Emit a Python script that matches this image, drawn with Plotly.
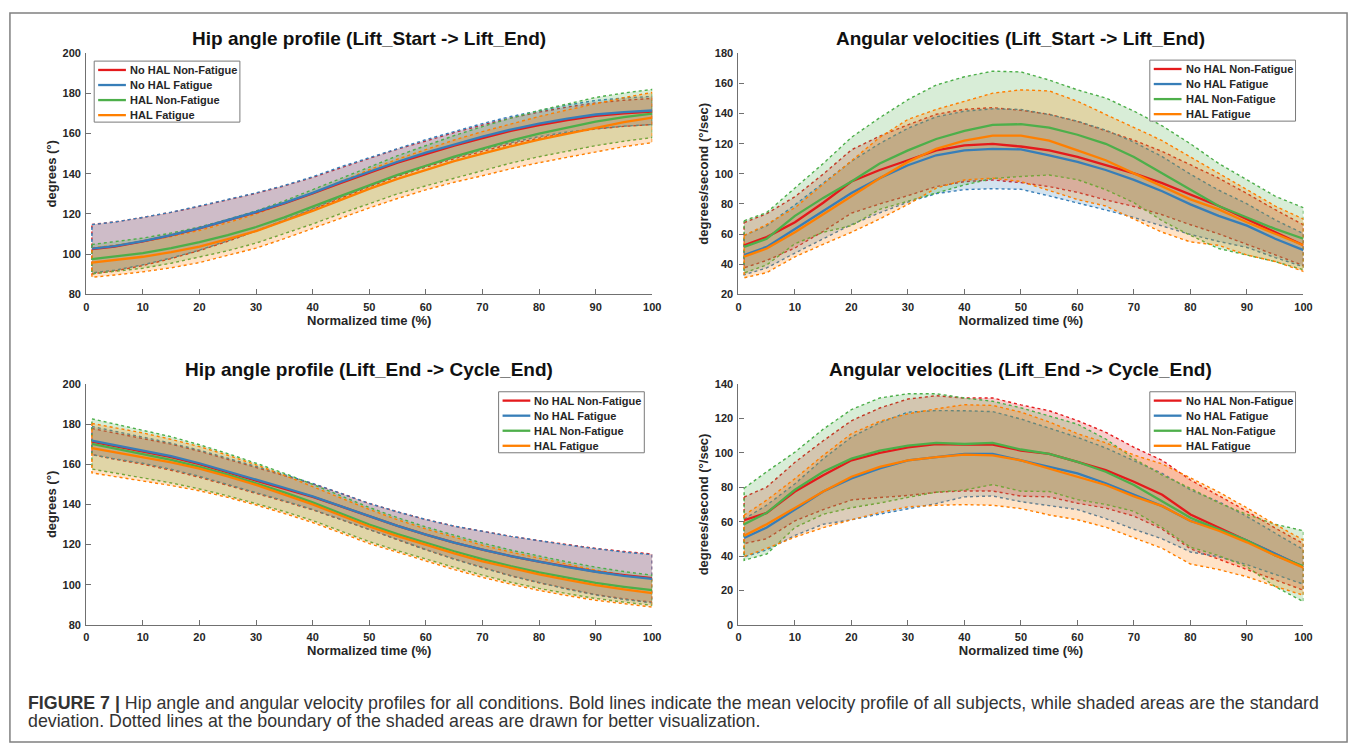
import plotly.graph_objects as go

# ---------------- data ----------------
x_pts = [1, 5, 10, 15, 20, 25, 30, 35, 40, 45, 50, 55, 60, 65, 70, 75, 80, 85, 90, 95, 100]
x_ticks = [0, 10, 20, 30, 40, 50, 60, 70, 80, 90, 100]

series_names = ["No HAL Non-Fatigue", "No HAL Fatigue", "HAL Non-Fatigue", "HAL Fatigue"]
series_colors = ["#e41a1c", "#377eb8", "#4daf4a", "#ff7f00"]

panel_titles = [
    "Hip angle profile (Lift_Start -> Lift_End)",
    "Angular velocities (Lift_Start -> Lift_End)",
    "Hip angle profile (Lift_End -> Cycle_End)",
    "Angular velocities (Lift_End -> Cycle_End)",
]
x_title = "Normalized time (%)"
y_titles = ["degrees (°)", "degrees/second (°/sec)", "degrees (°)", "degrees/second (°/sec)"]
y_ranges = [[80, 200], [20, 180], [80, 200], [0, 140]]
y_ticks = [
    [80, 100, 120, 140, 160, 180, 200],
    [20, 40, 60, 80, 100, 120, 140, 160, 180],
    [80, 100, 120, 140, 160, 180, 200],
    [0, 20, 40, 60, 80, 100, 120, 140],
]

# Panel 1: hip angle, Lift_Start -> Lift_End (mean, SD)
p1_mean_nohal_nf = [102.5, 103.8, 106.3, 109.3, 112.8, 116.7, 120.8, 125.3, 130.2, 135.5, 140.5, 145.5, 149.8, 154.0, 157.8, 161.3, 164.2, 166.7, 168.8, 170.1, 171.0]
p1_mean_nohal_f = [102.7, 104.0, 106.5, 109.5, 113.0, 117.0, 121.0, 125.5, 130.5, 136.0, 141.0, 146.0, 150.5, 154.5, 158.5, 162.0, 165.0, 167.5, 169.5, 170.7, 171.5]
p1_mean_hal_nf = [97.5, 98.7, 100.5, 103.0, 106.0, 109.5, 113.5, 118.3, 123.5, 129.0, 134.3, 139.5, 144.0, 148.5, 152.5, 156.5, 160.0, 163.0, 166.0, 168.2, 170.0]
p1_mean_hal_f = [95.8, 97.0, 98.7, 101.0, 103.8, 107.5, 111.5, 116.5, 121.5, 127.0, 132.5, 137.5, 142.0, 146.3, 150.0, 153.7, 157.0, 160.0, 163.0, 165.7, 168.0]
p1_sd_nohal_nf = [12.3, 12.2, 12.0, 11.5, 11.0, 10.3, 9.5, 8.7, 8.0, 7.5, 7.0, 6.8, 6.5, 6.5, 6.5, 6.5, 6.5, 6.5, 6.5, 6.5, 6.5]
p1_sd_nohal_f = [12.0, 12.0, 11.8, 11.4, 11.0, 10.3, 9.5, 8.7, 8.0, 7.5, 7.0, 6.8, 6.5, 6.5, 6.5, 6.5, 6.5, 6.7, 7.0, 7.0, 7.0]
p1_sd_hal_nf = [7.3, 7.4, 7.5, 7.5, 7.5, 7.8, 8.0, 8.2, 8.5, 8.8, 9.0, 9.5, 10.0, 10.5, 11.0, 11.2, 11.5, 11.8, 12.0, 12.0, 12.0]
p1_sd_hal_f = [7.3, 7.4, 7.5, 7.8, 8.0, 8.2, 8.5, 8.8, 9.0, 9.2, 9.5, 9.8, 10.0, 10.5, 11.0, 11.2, 11.5, 11.8, 12.0, 12.2, 12.5]

# Panel 2: angular velocity, Lift_Start -> Lift_End
p2_mean_nohal_nf = [52.6, 58.0, 67.8, 80.8, 94.9, 102.5, 109.0, 115.5, 118.8, 119.9, 118.1, 115.5, 111.2, 105.7, 100.3, 93.8, 86.2, 78.6, 69.9, 61.2, 52.6]
p2_mean_nohal_f = [46.0, 51.5, 63.4, 75.4, 87.3, 97.1, 105.7, 112.3, 115.5, 116.6, 116.2, 112.3, 107.9, 102.5, 96.0, 88.4, 79.7, 72.1, 65.6, 56.9, 49.3]
p2_mean_hal_nf = [51.5, 56.9, 72.1, 84.0, 94.9, 106.8, 115.5, 123.1, 128.5, 132.5, 132.9, 130.7, 125.9, 119.9, 111.2, 100.3, 89.5, 78.6, 71.0, 63.4, 56.9]
p2_mean_hal_f = [45.0, 50.4, 61.2, 73.2, 85.1, 97.1, 107.9, 116.6, 122.0, 125.3, 125.3, 122.0, 115.5, 109.0, 100.3, 91.6, 83.0, 76.4, 67.8, 60.2, 52.6]
p2_sd_nohal_nf = [15.0, 15.5, 17.0, 19.0, 21.0, 22.5, 23.5, 24.0, 24.0, 24.0, 24.0, 24.0, 23.5, 23.0, 22.0, 21.0, 20.0, 18.5, 17.0, 15.0, 13.5]
p2_sd_nohal_f = [13.0, 14.0, 16.0, 18.5, 21.0, 23.0, 24.5, 25.5, 26.0, 26.5, 26.5, 27.0, 27.0, 26.5, 25.0, 23.0, 20.0, 17.0, 14.5, 12.5, 11.0]
p2_sd_hal_nf = [17.3, 17.4, 18.5, 22.8, 29.3, 30.4, 33.7, 35.8, 35.9, 35.6, 34.7, 31.5, 29.8, 30.4, 30.4, 31.5, 30.4, 28.2, 25.0, 21.7, 20.6]
p2_sd_hal_f = [14.0, 16.0, 16.3, 20.0, 23.9, 27.1, 28.2, 26.1, 26.1, 28.2, 30.4, 33.0, 32.6, 30.4, 30.4, 30.4, 28.2, 23.9, 21.7, 18.4, 17.4]

# Panel 3: hip angle, Lift_End -> Cycle_End
p3_mean_nohal_nf = [171.3, 169.0, 166.5, 163.5, 160.0, 156.0, 152.0, 148.0, 143.8, 139.0, 134.0, 129.3, 125.0, 121.0, 117.5, 114.3, 111.5, 108.9, 106.6, 104.8, 103.3]
p3_mean_nohal_f = [171.8, 169.5, 167.0, 164.0, 160.5, 156.5, 152.5, 148.3, 144.0, 139.0, 134.0, 129.3, 125.0, 121.0, 117.5, 114.3, 111.5, 108.8, 106.5, 104.5, 103.0]
p3_mean_hal_nf = [170.1, 167.8, 165.2, 162.2, 158.7, 154.8, 150.5, 146.0, 141.0, 135.5, 130.0, 125.2, 120.8, 116.7, 112.8, 109.3, 106.2, 103.5, 101.0, 99.0, 97.3]
p3_mean_hal_f = [168.0, 166.0, 163.6, 160.9, 157.8, 154.0, 149.7, 145.0, 140.0, 134.5, 129.0, 124.2, 119.8, 115.6, 111.7, 108.3, 105.2, 102.4, 99.8, 97.7, 95.9]
p3_sd_nohal_nf = [6.5, 6.5, 6.5, 6.5, 6.5, 6.5, 6.5, 6.5, 6.5, 6.5, 6.5, 7.0, 7.5, 8.2, 9.0, 9.8, 10.5, 11.0, 11.5, 11.8, 12.0]
p3_sd_nohal_f = [7.0, 6.8, 6.5, 6.5, 6.5, 6.5, 6.5, 6.5, 6.5, 6.5, 6.5, 7.0, 7.5, 8.2, 9.0, 9.8, 10.5, 11.0, 11.5, 11.8, 12.0]
p3_sd_hal_nf = [12.5, 12.3, 12.0, 11.5, 11.0, 10.5, 10.0, 9.5, 9.0, 8.7, 8.5, 8.2, 8.0, 8.0, 8.0, 8.0, 8.0, 7.9, 7.8, 7.6, 7.5]
p3_sd_hal_f = [12.3, 12.2, 12.0, 11.5, 11.0, 10.5, 10.0, 9.5, 9.0, 8.7, 8.5, 8.2, 8.0, 8.0, 8.0, 8.0, 8.0, 7.8, 7.5, 7.2, 7.0]

# Panel 4: angular velocity, Lift_End -> Cycle_End
p4_mean_nohal_nf = [60.8, 65.1, 77.5, 87.0, 95.6, 100.0, 103.2, 105.1, 104.8, 104.8, 101.3, 99.4, 94.7, 89.9, 83.2, 75.6, 64.2, 56.6, 49.0, 41.3, 33.7]
p4_mean_nohal_f = [50.5, 56.6, 67.0, 77.5, 85.1, 90.9, 95.6, 97.5, 99.4, 99.4, 95.6, 91.8, 88.0, 82.3, 75.6, 69.0, 60.4, 55.6, 49.0, 41.3, 33.7]
p4_mean_hal_nf = [58.5, 65.1, 78.5, 89.0, 96.6, 101.3, 104.2, 105.7, 105.1, 105.7, 101.9, 99.4, 94.7, 89.0, 81.3, 71.8, 62.3, 55.6, 49.0, 40.4, 34.1]
p4_mean_hal_f = [51.8, 58.5, 68.0, 77.5, 86.1, 91.8, 95.6, 97.5, 98.9, 98.5, 95.6, 90.9, 86.1, 81.3, 74.7, 69.0, 60.4, 54.7, 48.0, 40.4, 33.3]
p4_sd_nohal_nf = [13.5, 15.0, 17.0, 20.0, 23.0, 26.0, 28.0, 28.0, 27.0, 27.0, 26.5, 25.0, 24.0, 22.0, 20.0, 20.0, 20.0, 18.5, 17.0, 15.0, 13.5]
p4_sd_nohal_f = [11.0, 13.0, 15.0, 19.0, 24.0, 26.5, 28.0, 27.0, 25.0, 24.5, 24.0, 22.5, 21.0, 20.5, 20.0, 19.0, 18.0, 16.0, 14.0, 12.0, 10.0]
p4_sd_hal_nf = [20.9, 23.9, 21.9, 24.7, 28.5, 30.5, 30.1, 28.6, 26.7, 24.2, 24.2, 21.9, 21.9, 19.0, 15.3, 15.2, 17.1, 15.3, 15.2, 18.1, 20.6]
p4_sd_hal_f = [12.0, 14.0, 17.0, 21.0, 25.0, 26.5, 27.0, 28.0, 29.0, 29.0, 28.0, 27.0, 25.0, 24.5, 24.0, 24.5, 25.0, 22.5, 20.0, 18.0, 16.0]

caption_bold = "FIGURE 7 |"
caption_line1 = ("Hip angle and angular velocity profiles for all conditions. Bold lines indicate the mean "
                 "velocity profile of all subjects, while shaded areas are the standard")
caption_line2 = "deviation. Dotted lines at the boundary of the shaded areas are drawn for better visualization."

panels = [
    ([p1_mean_nohal_nf, p1_mean_nohal_f, p1_mean_hal_nf, p1_mean_hal_f],
     [p1_sd_nohal_nf, p1_sd_nohal_f, p1_sd_hal_nf, p1_sd_hal_f]),
    ([p2_mean_nohal_nf, p2_mean_nohal_f, p2_mean_hal_nf, p2_mean_hal_f],
     [p2_sd_nohal_nf, p2_sd_nohal_f, p2_sd_hal_nf, p2_sd_hal_f]),
    ([p3_mean_nohal_nf, p3_mean_nohal_f, p3_mean_hal_nf, p3_mean_hal_f],
     [p3_sd_nohal_nf, p3_sd_nohal_f, p3_sd_hal_nf, p3_sd_hal_f]),
    ([p4_mean_nohal_nf, p4_mean_nohal_f, p4_mean_hal_nf, p4_mean_hal_f],
     [p4_sd_nohal_nf, p4_sd_nohal_f, p4_sd_hal_nf, p4_sd_hal_f]),
]

# ---------------- layout geometry (pixels) ----------------
W, H = 1363, 754
FONT = "Liberation Sans, Arial, Helvetica, sans-serif"
TEXT_COL = "#262626"
AXIS_COL = "#707070"

# plot areas: (left, right, top, bottom) in px
areas = [(84, 655, 48, 293), (742, 1312, 48, 293), (84, 655, 384, 629), (742, 1312, 384, 629)]
title_y = [33, 33, 369, 369]
legend_boxes = [(92, 56), (1157, 55), (500, 392), (1157, 392)]  # left, top


def px(xp):
    return xp / W


def py(yp):
    return 1 - yp / H


def rgba(hexcol, a):
    h = hexcol.lstrip("#")
    r, g, b = int(h[0:2], 16), int(h[2:4], 16), int(h[4:6], 16)
    return f"rgba({r},{g},{b},{a})"


fig = go.Figure()

for pi, (means, sds) in enumerate(panels):
    xa = "x" if pi == 0 else f"x{pi + 1}"
    ya = "y" if pi == 0 else f"y{pi + 1}"
    # shaded SD areas with dotted borders
    for si in range(4):
        m, s = means[si], sds[si]
        upper = [a + b for a, b in zip(m, s)]
        lower = [a - b for a, b in zip(m, s)]
        xs = x_pts + x_pts[::-1] + [x_pts[0]]
        ys = upper + lower[::-1] + [upper[0]]
        fig.add_trace(go.Scatter(
            x=xs, y=ys, xaxis=xa, yaxis=ya, mode="lines", fill="toself",
            fillcolor=rgba(series_colors[si], 0.22),
            line=dict(color=series_colors[si], width=1.4, dash="dot"),
            showlegend=False, hoverinfo="skip"))
    # mean lines
    for si in range(4):
        fig.add_trace(go.Scatter(
            x=x_pts, y=means[si], xaxis=xa, yaxis=ya, mode="lines",
            line=dict(color=series_colors[si], width=2.3),
            name=series_names[si], showlegend=False))

layout = dict(
    width=W, height=H, margin=dict(l=0, r=0, t=0, b=0),
    paper_bgcolor="white", plot_bgcolor="white", showlegend=False,
    font=dict(family=FONT, color=TEXT_COL),
)

annotations = []
shapes = []
for pi in range(4):
    l, r, t, b = areas[pi]
    xk = "xaxis" if pi == 0 else f"xaxis{pi + 1}"
    yk = "yaxis" if pi == 0 else f"yaxis{pi + 1}"
    ya_anchor = "y" if pi == 0 else f"y{pi + 1}"
    xa_anchor = "x" if pi == 0 else f"x{pi + 1}"
    layout[xk] = dict(
        domain=[px(l), px(r)], anchor=ya_anchor, range=[0, 100],
        tickvals=x_ticks, ticks="inside", ticklen=5, tickwidth=1, tickcolor=AXIS_COL,
        showline=True, linecolor=AXIS_COL, linewidth=1.2, showgrid=False, zeroline=False,
        tickfont=dict(family=FONT, size=11, color=TEXT_COL, weight="bold"),
        ticklabelstandoff=2,
        title=dict(text=x_title, standoff=3, font=dict(family=FONT, size=13, color=TEXT_COL, weight="bold")),
    )
    layout[yk] = dict(
        domain=[py(b), py(t)], anchor=xa_anchor, range=y_ranges[pi],
        tickvals=y_ticks[pi], ticks="inside", ticklen=5, tickwidth=1, tickcolor=AXIS_COL,
        showline=True, linecolor=AXIS_COL, linewidth=1.2, showgrid=False, zeroline=False,
        tickfont=dict(family=FONT, size=11, color=TEXT_COL, weight="bold"),
        ticklabelstandoff=2,
        title=dict(text=y_titles[pi], standoff=3, font=dict(family=FONT, size=13, color=TEXT_COL, weight="bold")),
    )
    # panel title
    annotations.append(dict(
        x=px((l + r) / 2), y=py(title_y[pi]), xref="paper", yref="paper",
        text=panel_titles[pi], showarrow=False, xanchor="center", yanchor="middle",
        font=dict(family=FONT, size=19, color="#111111", weight="bold")))
    # legend (box + samples + labels)
    bl, bt = legend_boxes[pi]
    shapes.append(dict(type="rect", xref="paper", yref="paper",
                       x0=px(bl), x1=px(bl + 147), y0=py(bt + 62), y1=py(bt),
                       line=dict(color="#7a7a7a", width=1), fillcolor="white"))
    for si in range(4):
        ry = bt + 9 + si * 15.3
        shapes.append(dict(type="line", xref="paper", yref="paper",
                           x0=px(bl + 4), x1=px(bl + 32), y0=py(ry), y1=py(ry),
                           line=dict(color=series_colors[si], width=2.3)))
        annotations.append(dict(
            x=px(bl + 34), y=py(ry), xref="paper", yref="paper", text=series_names[si],
            showarrow=False, xanchor="left", yanchor="middle",
            font=dict(family=FONT, size=11, color=TEXT_COL, weight="bold")))

# outer frame
shapes.append(dict(type="rect", xref="paper", yref="paper",
                   x0=px(7), x1=px(1356), y0=py(748), y1=py(7),
                   line=dict(color="#808080", width=1.5), layer="below"))

# caption
annotations.append(dict(
    x=px(23), y=py(708), xref="paper", yref="paper",
    text=f"<b>{caption_bold}</b> {caption_line1}", showarrow=False,
    xanchor="left", yanchor="middle", font=dict(family=FONT, size=17.8, color="#333333")))
annotations.append(dict(
    x=px(23), y=py(727), xref="paper", yref="paper",
    text=caption_line2, showarrow=False,
    xanchor="left", yanchor="middle", font=dict(family=FONT, size=17.8, color="#333333")))

layout["annotations"] = annotations
layout["shapes"] = shapes
fig.update_layout(**layout)

fig.write_html("out.html")
